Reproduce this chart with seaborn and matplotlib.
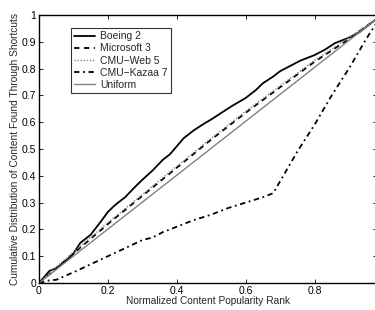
import matplotlib
matplotlib.use("Agg")
import matplotlib.pyplot as plt
import seaborn as sns

boeing_x = [0, 0.02, 0.03, 0.05, 0.08, 0.10, 0.12, 0.15, 0.18, 0.20, 0.22, 0.25, 0.28, 0.30,
            0.33, 0.36, 0.38, 0.40, 0.42, 0.45, 0.48, 0.50, 0.53, 0.56, 0.60, 0.63, 0.65,
            0.68, 0.70, 0.73, 0.76, 0.80, 0.83, 0.86, 0.90, 0.93, 0.96, 0.98]
boeing_y = [0, 0.03, 0.045, 0.055, 0.085, 0.11, 0.15, 0.18, 0.23, 0.265, 0.29, 0.32, 0.36, 0.385,
            0.42, 0.46, 0.48, 0.51, 0.54, 0.57, 0.595, 0.61, 0.635, 0.66, 0.69, 0.72, 0.745,
            0.77, 0.79, 0.81, 0.83, 0.85, 0.87, 0.895, 0.915, 0.935, 0.965, 0.985]

msft_x = [0, 0.05, 0.10, 0.20, 0.30, 0.40, 0.50, 0.60, 0.70, 0.80, 0.90, 0.98]
msft_y = [0, 0.055, 0.11, 0.22, 0.325, 0.43, 0.535, 0.635, 0.73, 0.825, 0.91, 0.985]

web_x = [0, 0.05, 0.10, 0.20, 0.30, 0.40, 0.50, 0.60, 0.70, 0.80, 0.90, 0.98]
web_y = [0, 0.06, 0.115, 0.225, 0.33, 0.435, 0.54, 0.64, 0.735, 0.83, 0.915, 0.985]

kazaa_x = [0, 0.03, 0.05, 0.10, 0.15, 0.20, 0.25, 0.30, 0.33, 0.36, 0.40, 0.45, 0.50,
           0.55, 0.60, 0.65, 0.68, 0.75, 0.80, 0.85, 0.90, 0.95, 0.98]
kazaa_y = [0, 0.01, 0.012, 0.04, 0.07, 0.10, 0.13, 0.16, 0.17, 0.19, 0.21, 0.235, 0.255,
           0.28, 0.30, 0.32, 0.335, 0.49, 0.59, 0.70, 0.80, 0.91, 0.97]

uniform_x = [0, 0.98]
uniform_y = [0, 0.985]

sns.set_theme(style="white")
plt.rcParams["font.family"] = ["Liberation Sans", "DejaVu Sans"]

fig = plt.figure(figsize=(3.75, 3.1), dpi=100)
ax = fig.add_axes([0.104, 0.087, 0.9, 0.865])

sns.lineplot(x=boeing_x, y=boeing_y, ax=ax, color="black", lw=1.3, label="Boeing 2")
sns.lineplot(x=msft_x, y=msft_y, ax=ax, color="black", lw=1.3, linestyle=(0, (3, 2.5)), label="Microsoft 3")
sns.lineplot(x=web_x, y=web_y, ax=ax, color="#808080", lw=1.0, linestyle=(0, (1, 1.2)), label="CMU\u2212Web 5")
sns.lineplot(x=kazaa_x, y=kazaa_y, ax=ax, color="black", lw=1.3, linestyle=(0, (3, 2, 1, 2)), label="CMU\u2212Kazaa 7")
sns.lineplot(x=uniform_x, y=uniform_y, ax=ax, color="#808080", lw=1.0, label="Uniform")

ax.set_xlim(0, 0.98)
ax.set_ylim(0, 1)
ax.set_xticks([0, 0.2, 0.4, 0.6, 0.8])
ax.set_xticklabels(["0", "0.2", "0.4", "0.6", "0.8"])
ax.set_yticks([i / 10 for i in range(11)])
ax.set_yticklabels(["0"] + [f"0.{i}" for i in range(1, 10)] + ["1"])
ax.tick_params(direction="in", length=3, width=0.6, labelsize=7.5, pad=2,
               top=True, right=True, bottom=True, left=True, colors="black")
for s in ax.spines.values():
    s.set_color("black")
    s.set_linewidth(1.0)

ax.set_xlabel("Normalized Content Popularity Rank", fontsize=7.3, labelpad=0)
ax.set_ylabel("Cumulative Distribution of Content Found Through Shortcuts", fontsize=7.3, labelpad=1)

leg = ax.legend(loc="upper left", bbox_to_anchor=(0.095, 0.95), fontsize=7.5, frameon=True,
                fancybox=False, edgecolor="black", handlelength=2.0, labelspacing=0.2,
                borderpad=0.3, handletextpad=0.5, borderaxespad=0)
leg.get_frame().set_linewidth(0.8)

fig.savefig("out.png", dpi=100)
